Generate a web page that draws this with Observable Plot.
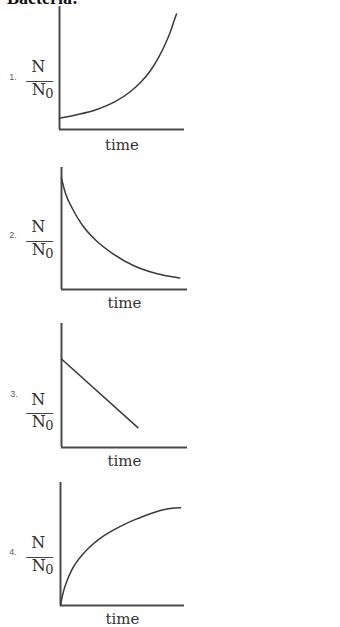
<!DOCTYPE html>
<html><head><meta charset="utf-8">
<script src="https://cdn.jsdelivr.net/npm/d3@7"></script>
<script src="https://cdn.jsdelivr.net/npm/@observablehq/plot@0.6"></script>
<style>
body{margin:0;background:#fff;}
#wrap{position:relative;width:340px;height:627px;overflow:hidden;}
#title{position:absolute;left:7px;top:-11px;font:bold 18px/18px "Liberation Serif",serif;color:#111;z-index:2;}
#charts svg{display:block;}
</style></head><body>
<div id="wrap"><div id="title">Bacteria:</div><div id="charts"></div></div>
<script>
// ---- data ----
const numLabels = ["1.", "2.", "3.", "4."];
const xLabel = "time";
const fracTop = "N";
const fracBottom = "N";
const fracSub = "0";
const fracBar = "\u2014\u2014";

const p1X = [0, 1.28, 2.88, 4.48, 5.68, 6.48, 7.28, 7.92, 8.48, 8.88, 9.2, 9.36];
const p1Y = [0.92, 1.18, 1.59, 2.28, 3.09, 3.82, 4.8, 5.85, 6.99, 7.97, 8.94, 9.39];
const p2X = [0, 0.32, 0.86, 1.66, 2.72, 4.06, 5.66, 7.52, 9.38];
const p2Y = [9.1, 7.87, 6.64, 5.27, 4.04, 2.95, 1.99, 1.31, 0.95];
const p3X = [0, 6.06];
const p3Y = [7.14, 1.6];
const p4X = [0, 0.22, 0.48, 0.88, 1.28, 1.82, 2.34, 3.14, 3.94, 4.48, 5.2, 6.0, 6.8, 7.6, 8.4, 9.0, 9.68];
const p4Y = [0, 1.08, 1.89, 2.84, 3.51, 4.19, 4.73, 5.41, 5.94, 6.25, 6.62, 6.98, 7.3, 7.58, 7.8, 7.9, 7.95];

const series = [[p1X, p1Y], [p2X, p2Y], [p3X, p3Y], [p4X, p4Y]];

// layout per panel
const layout = [
  {height:155, mt:6,  mb:26, ml:59, mr:156, frac:10.8, num:9.5, numX:12.5, time:16, curve:"monotone-x"},
  {height:157, mt:12, mb:23, ml:61, mr:153, frac:10.3, num:7,   numX:12.5, time:14, curve:"monotone-x"},
  {height:157, mt:11, mb:22, ml:61, mr:153, frac:25.7, num:8.3, numX:13.5, time:14, curve:"linear"},
  {height:158, mt:13, mb:22, ml:60, mr:156, frac:10.8, num:8.2, numX:12.5, time:13.5, curve:"monotone-x"}
];

const serif = "DejaVu Serif";
const axisColor = "#4a4a4a";
const lineColor = "#3a3a3a";

const charts = document.getElementById("charts");
series.forEach(([xs, ys], i) => {
  const L = layout[i];
  const pts = xs.map((x, j) => ({x, y: ys[j]}));
  const one = (t) => [t];
  const chart = Plot.plot({
    width: 340,
    height: L.height,
    marginTop: L.mt, marginBottom: L.mb, marginLeft: L.ml, marginRight: L.mr,
    x: {domain: [0, 10], axis: null},
    y: {domain: [0, 10], axis: null},
    style: {background: "#fff", overflow: "visible"},
    marks: [
      Plot.ruleX([0], {stroke: axisColor, strokeWidth: 2}),
      Plot.ruleY([0], {stroke: axisColor, strokeWidth: 2}),
      Plot.line(pts, {x: "x", y: "y", curve: L.curve, stroke: lineColor, strokeWidth: 1.5}),
      Plot.text(one(xLabel), {text: d => d, frameAnchor: "bottom", lineAnchor: "middle", dy: L.time, fontFamily: serif, fontSize: 15, fill: "#333"}),
      Plot.text(one(fracTop), {text: d => d, frameAnchor: "left", textAnchor: "middle", lineAnchor: "middle", dx: 37.8 - L.ml, dy: L.frac - 11.6, fontFamily: serif, fontSize: 16, fill: "#333"}),
      Plot.text(one(fracBar), {text: d => d, frameAnchor: "left", textAnchor: "middle", lineAnchor: "middle", dx: 39 - L.ml, dy: L.frac + 1, fontFamily: "Liberation Serif", fontSize: 13, fill: "#444", stroke: "#444", strokeWidth: 0.5}),
      Plot.text(one(fracBottom), {text: d => d, frameAnchor: "left", textAnchor: "middle", lineAnchor: "middle", dx: 38.3 - L.ml, dy: L.frac + 10.7, fontFamily: serif, fontSize: 16, fill: "#333"}),
      Plot.text(one(fracSub), {text: d => d, frameAnchor: "left", textAnchor: "middle", lineAnchor: "middle", dx: 49 - L.ml, dy: L.frac + 15, fontFamily: serif, fontSize: 13, fill: "#333"}),
      Plot.text(one(numLabels[i]), {text: d => d, frameAnchor: "left", textAnchor: "middle", lineAnchor: "middle", dx: L.numX - L.ml, dy: L.num, fontFamily: "Liberation Sans", fontSize: 9, fill: "#5a5a5a"})
    ]
  });
  charts.appendChild(chart);
});
</script>
</body></html>
